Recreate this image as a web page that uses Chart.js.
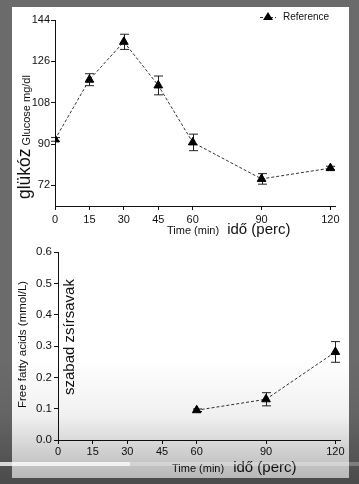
<!DOCTYPE html>
<html>
<head>
<meta charset="utf-8">
<script src="https://cdn.jsdelivr.net/npm/chart.js@4.4.1/dist/chart.umd.min.js"></script>
<style>
  html, body { margin: 0; padding: 0; }
  body { width: 359px; height: 484px; background: #6b6b6b; position: relative; overflow: hidden; }
  .card { position: absolute; left: 12px; top: 7px; width: 337px; height: 471px; background: #fff; }
  canvas { position: absolute; left: 0; }
  #glucoseChart { top: 0; }
  #ffaChart { top: 240px; }
  .shade { position: absolute; left: 0; top: 360px; width: 359px; height: 124px;
    background: linear-gradient(to bottom, rgba(0,0,0,0) 0%, rgba(0,0,0,0.06) 45%, rgba(0,0,0,0.3) 100%); pointer-events: none; }
  .bar-bg { position: absolute; left: 0; top: 462px; width: 359px; height: 4px; background: rgba(255,255,255,0.25); }
  .bar-played { position: absolute; left: 0; top: 462px; width: 130px; height: 4px; background: rgba(255,255,255,0.7); }
</style>
</head>
<body>
<div class="card"></div>
<canvas id="glucoseChart" width="359" height="240"></canvas>
<canvas id="ffaChart" width="359" height="244"></canvas>
<div class="shade"></div>
<div class="bar-bg"></div>
<div class="bar-played"></div>
<script>
const FONT = '"Liberation Sans", Arial, sans-serif';

// time points (min)
const minutes = [0, 15, 30, 45, 60, 90, 120];
const timeTicks = [0, 15, 30, 45, 60, 90, 120];

// glucose (mg/dl), mean and error
const glucose = [92, 118, 134.5, 115.5, 90.7, 74.8, 79.5];
const glucoseErr = [0.8, 2.6, 3.3, 4.1, 3.6, 2.3, 0.8];
const glucoseTicks = [72, 90, 108, 126, 144];

// free fatty acids (mmol/L)
const ffaMinutes = [60, 90, 120];
const ffa = [0.095, 0.13, 0.281];
const ffaErr = [0.004, 0.021, 0.033];
const ffaTicks = [0, 0.1, 0.2, 0.3, 0.4, 0.5, 0.6];

const errorBars = {
    id: 'errorBars',
    beforeDatasetsDraw(chart, args, opts) {
        const { ctx, scales: { x, y } } = chart;
        const pts = chart.data.datasets[0].data;
        ctx.save();
        ctx.strokeStyle = '#222'; ctx.lineWidth = 1;
        pts.forEach((p, i) => {
            const e = opts.errors[i];
            const px = Math.round(x.getPixelForValue(p.x)) + 0.5;
            const hi = y.getPixelForValue(p.y + e), lo = y.getPixelForValue(p.y - e);
            ctx.beginPath();
            ctx.moveTo(px, hi); ctx.lineTo(px, lo);
            ctx.moveTo(px - 4.5, hi); ctx.lineTo(px + 4.5, hi);
            ctx.moveTo(px - 4.5, lo); ctx.lineTo(px + 4.5, lo);
            ctx.stroke();
        });
        ctx.restore();
    }
};

// axis titles mixing two font sizes, legend entry
const titles = {
    id: 'titles',
    afterDraw(chart, args, opts) {
        const ctx = chart.ctx;
        ctx.save();
        ctx.fillStyle = '#111';
        ctx.textBaseline = 'alphabetic';
        (opts.runs || []).forEach(r => {
            ctx.save();
            ctx.translate(r.x, r.y);
            if (r.rotate) ctx.rotate(-Math.PI / 2);
            let cx = 0;
            r.parts.forEach(([txt, size, gap]) => {
                ctx.font = `${size}px ${FONT}`;
                ctx.textAlign = 'left';
                ctx.fillText(txt, cx, 0);
                cx += ctx.measureText(txt).width + (gap || 0);
            });
            ctx.restore();
        });
        if (opts.legend) {
            const { x, y } = opts.legend;
            ctx.strokeStyle = '#333'; ctx.lineWidth = 1; ctx.setLineDash([3, 2]);
            ctx.beginPath(); ctx.moveTo(x - 8, y + 0.5); ctx.lineTo(x + 8, y + 0.5); ctx.stroke();
            ctx.setLineDash([]);
            ctx.fillStyle = '#000';
            ctx.beginPath(); ctx.moveTo(x, y - 5); ctx.lineTo(x + 5, y + 3); ctx.lineTo(x - 5, y + 3); ctx.closePath(); ctx.fill();
            ctx.font = `10px ${FONT}`; ctx.textAlign = 'left'; ctx.textBaseline = 'middle';
            ctx.fillStyle = '#111';
            ctx.fillText(chart.data.datasets[0].label, x + 15, y);
        }
        ctx.restore();
    }
};

function makeChart(canvas, xs, ys, errs, yMin, yMax, yTicks, fmt, lay) {
    return new Chart(canvas, {
        type: 'line',
        data: {
            datasets: [{
                label: 'Reference',
                data: xs.map((m, i) => ({ x: m, y: ys[i] })),
                borderColor: '#333', borderWidth: 1, borderDash: [3, 2],
                pointStyle: 'triangle', pointRadius: 5, pointBackgroundColor: '#000',
                pointBorderColor: '#000', pointBorderWidth: 1, tension: 0
            }]
        },
        options: {
            responsive: false, animation: false,
            layout: { padding: { left: 0, top: lay.top, right: lay.right, bottom: 0 } },
            plugins: {
                legend: { display: false }, tooltip: { enabled: false },
                errorBars: { errors: errs },
                titles: { runs: lay.runs, legend: lay.legend }
            },
            scales: {
                x: {
                    type: 'linear', min: 0, max: 122,
                    afterFit: s => { s.height = lay.xh; },
                    afterBuildTicks: s => { s.ticks = timeTicks.map(v => ({ value: v })); },
                    grid: { drawOnChartArea: false, tickLength: 4, color: '#111' },
                    border: { color: '#111', width: 1 },
                    ticks: { font: { family: FONT, size: 11 }, color: '#111', padding: lay.xpad, maxRotation: 0 }
                },
                y: {
                    min: yMin, max: yMax,
                    afterFit: s => { s.width = lay.yw; },
                    afterBuildTicks: s => { s.ticks = yTicks.map(v => ({ value: v })); },
                    grid: { drawOnChartArea: false, tickLength: 4, color: '#111' },
                    border: { color: '#111', width: 1 },
                    ticks: { font: { family: FONT, size: lay.yfs }, color: '#111', padding: lay.ypad, callback: fmt }
                }
            }
        },
        plugins: [errorBars, titles]
    });
}

makeChart(document.getElementById('glucoseChart'), minutes, glucose, glucoseErr, 63, 144, glucoseTicks,
    v => v, {
        top: 20, right: 24, xh: 34, yw: 55, xpad: 3, ypad: 1, yfs: 11,
        legend: { x: 268, y: 17 },
        runs: [
            { x: 30, y: 199, rotate: true, parts: [['glükóz', 17.5, 3], ['Glucose mg/dl', 11]] },
            { x: 167, y: 234, parts: [['Time (min)', 11, 8], ['idő (perc)', 15]] }
        ]
    });

makeChart(document.getElementById('ffaChart'), ffaMinutes, ffa, ffaErr, 0, 0.6, ffaTicks,
    v => v.toFixed(1), {
        top: 12, right: 19, xh: 44, yw: 58, xpad: 1, ypad: 2, yfs: 11.5,
        runs: [
            { x: 26, y: 168, rotate: true, parts: [['Free fatty acids (mmol/L)', 11.5]] },
            { x: 74, y: 155, rotate: true, parts: [['szabad zsírsavak', 15]] },
            { x: 172, y: 232, parts: [['Time (min)', 11, 9], ['idő (perc)', 15]] }
        ]
    });
</script>
</body>
</html>
